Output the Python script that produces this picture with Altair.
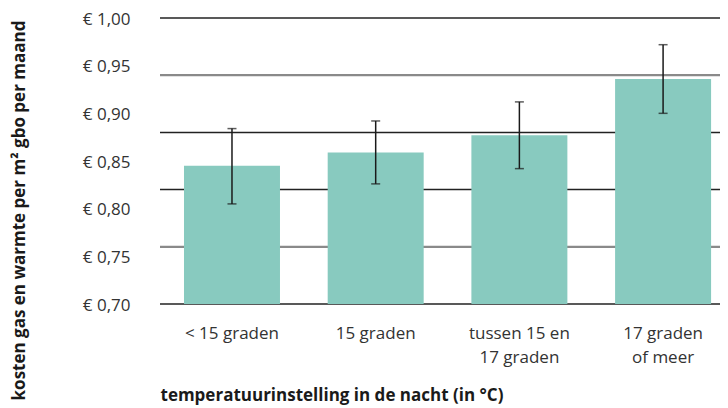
import altair as alt
import pandas as pd

categories = ["< 15 graden", "15 graden", "tussen 15  en|17 graden", "17 graden|of meer"]
means = [0.845, 0.859, 0.877, 0.936]
lows = [0.805, 0.826, 0.842, 0.900]
highs = [0.884, 0.892, 0.912, 0.972]

y_ticks = [0.70, 0.75, 0.80, 0.85, 0.90, 0.95, 1.00]
grid_vals = [1.00, 0.94, 0.88, 0.82, 0.76, 0.70]
grid_colors = ["#222222", "#8a8a8a", "#222222", "#222222", "#8a8a8a", "#222222"]
grid_widths = [1.5, 2.2, 1.5, 1.5, 2.2, 1.5]

df = pd.DataFrame({"cat": categories, "mean": means, "lo": lows, "hi": highs, "base": [0.70] * 4})
gdf = pd.DataFrame({"g": grid_vals, "c": grid_colors, "w": grid_widths})

FONT = "Open Sans"
yscale = alt.Scale(domain=[0.70, 1.00], zero=False, nice=False)
xscale = alt.Scale(paddingInner=0.332, paddingOuter=0.1145, align=0.729)

x_enc = alt.X(
    "cat:N", sort=None, scale=xscale,
    title="temperatuurinstelling in de nacht (in °C)",
    axis=alt.Axis(
        labelExpr="split(datum.label, '|')", labelAngle=0, labelFontSize=17,
        labelFont=FONT, labelColor="#333333", labelPadding=21, labelLineHeight=24,
        labelBaseline="top", ticks=False, domain=False, grid=False,
        titleFont=FONT, titleFontSize=17, titleFontWeight="bold", titleColor="#1a1a1a",
        titleAnchor="start", titleAlign="left", titleX=0, titleY=91, titleBaseline="middle",
    ),
)

y_axis = alt.Axis(
    values=y_ticks,
    labelExpr="'€ ' + replace(format(datum.value, '.2f'), '.', ',')",
    labelFontSize=17, labelFont=FONT, labelColor="#333333", labelPadding=30,
    labelOffset=1,
    ticks=False, domain=False, grid=False,
    title="kosten gas en warmte per m² gbo per maand",
    titleFont=FONT, titleFontSize=17, titleFontWeight="bold", titleColor="#1a1a1a",
    titleAngle=270, titleX=-141, titleY=192, titleAlign="center", titleBaseline="middle",
)

grid = alt.Chart(gdf).mark_rule().encode(
    y=alt.Y("g:Q", scale=yscale, axis=y_axis),
    color=alt.Color("c:N", scale=None),
    strokeWidth=alt.StrokeWidth("w:Q", scale=None),
)

bars = alt.Chart(df).mark_bar(color="#88cabf").encode(
    x=x_enc,
    y=alt.Y("mean:Q", scale=yscale),
    y2="base:Q",
)

err = alt.Chart(df).mark_rule(color="#1a1a1a", strokeWidth=1.5).encode(
    x=alt.X("cat:N", sort=None, scale=xscale),
    y=alt.Y("lo:Q", scale=yscale),
    y2="hi:Q",
)
cap_lo = alt.Chart(df).mark_tick(color="#1a1a1a", size=9, thickness=1.5).encode(
    x=alt.X("cat:N", sort=None, scale=xscale),
    y=alt.Y("lo:Q", scale=yscale),
)
cap_hi = alt.Chart(df).mark_tick(color="#1a1a1a", size=9, thickness=1.5).encode(
    x=alt.X("cat:N", sort=None, scale=xscale),
    y=alt.Y("hi:Q", scale=yscale),
)

chart = alt.layer(grid, bars, err, cap_lo, cap_hi).properties(
    width=560, height=286,
    autosize=alt.AutoSizeParams(type="none"),
    padding={"left": 152, "top": 10, "right": 0, "bottom": 104},
).configure_view(stroke=None)

chart.save("out.html", embed_options={"renderer": "svg", "actions": False})
